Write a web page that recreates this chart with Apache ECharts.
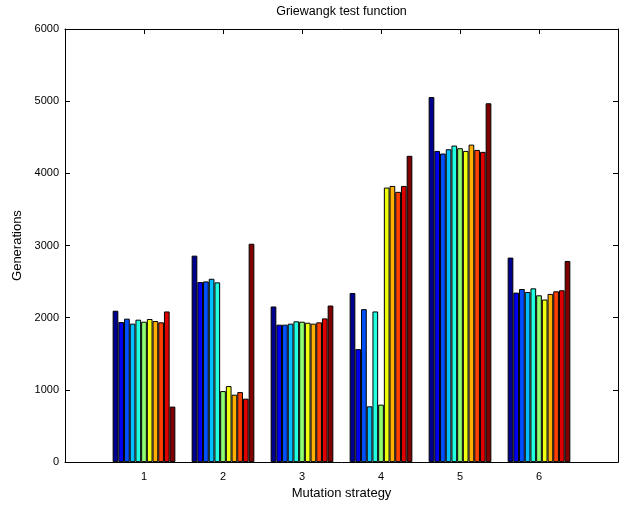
<!DOCTYPE html>
<html>
<head>
<meta charset="utf-8">
<script src="https://cdn.jsdelivr.net/npm/echarts@6/dist/echarts.min.js"></script>
<style>html,body{margin:0;padding:0;background:#fff}#c{width:621px;height:505px}</style>
</head>
<body>
<div id="c"></div>
<script>
var strategies = ['1', '2', '3', '4', '5', '6'];
var yTicks = [0, 1000, 2000, 3000, 4000, 5000, 6000];
// one array per bar within each group (11 bars per strategy)
var bar1  = [2097, 2860, 2156, 2343, 5057, 2833];
var bar2  = [1940, 2494, 1904, 1565, 4311, 2348];
var bar3  = [1987, 2503, 1904, 2119, 4275, 2398];
var bar4  = [1918, 2540, 1918, 773, 4334, 2357];
var bar5  = [1973, 2490, 1950, 2087, 4385, 2407];
var bar6  = [1945, 984, 1945, 796, 4348, 2311];
var bar7  = [1982, 1053, 1931, 3803, 4311, 2252];
var bar8  = [1954, 934, 1918, 3826, 4398, 2330];
var bar9  = [1936, 970, 1936, 3744, 4325, 2366];
var bar10 = [2087, 879, 1991, 3826, 4298, 2380];
var bar11 = [769, 3025, 2169, 4243, 4971, 2787];
var bars = [bar1, bar2, bar3, bar4, bar5, bar6, bar7, bar8, bar9, bar10, bar11];
var colors = ['#00008F', '#0000EF', '#0050FF', '#00BFFF', '#20FFDF', '#8FFF70',
              '#EFFF10', '#FFAF00', '#FF4000', '#DF0000', '#800000'];

var cats = ['0'].concat(strategies).concat(['7']);
var font = 'Liberation Sans, Arial, Helvetica, sans-serif';

var series = bars.map(function (vals, i) {
  return {
    type: 'bar',
    xAxisIndex: 0,
    yAxisIndex: 0,
    data: ['-'].concat(vals).concat(['-']),
    barWidth: 5.7,
    barGap: '0%',
    itemStyle: { color: colors[i], borderColor: '#000', borderWidth: 1 },
    emphasis: { disabled: true },
    animation: false
  };
});

var chart = echarts.init(document.getElementById('c'), null, { renderer: 'canvas' });
chart.setOption({
  animation: false,
  backgroundColor: '#fff',
  grid: { left: 65, right: 1, top: 29, bottom: 39, containLabel: false },
  xAxis: [{
    type: 'category',
    data: cats,
    boundaryGap: false,
    position: 'bottom',
    axisLine: { onZero: false, lineStyle: { color: '#000', width: 1 } },
    axisTick: { inside: true, length: 5, lineStyle: { color: '#000' }, interval: 0 },
    axisLabel: {
      color: '#000', fontSize: 11, fontFamily: font, margin: 9, interval: 0,
      formatter: function (v) { return (v === '0' || v === '7') ? '' : v; }
    },
    splitLine: { show: false },
    name: 'Mutation strategy',
    nameLocation: 'middle',
    nameGap: 21,
    nameTextStyle: { color: '#000', fontSize: 13, fontFamily: font }
  }, {
    type: 'category',
    data: cats,
    boundaryGap: false,
    position: 'top',
    axisLine: { onZero: false, lineStyle: { color: '#000', width: 1 } },
    axisTick: { inside: true, length: 5, lineStyle: { color: '#000' }, interval: 0 },
    axisLabel: { show: false },
    splitLine: { show: false },
    name: 'Griewangk test function',
    nameLocation: 'middle',
    nameGap: 11,
    nameTextStyle: { color: '#000', fontSize: 12.5, fontFamily: font }
  }],
  yAxis: [{
    type: 'value',
    min: yTicks[0],
    max: yTicks[yTicks.length - 1],
    interval: 1000,
    position: 'left',
    axisLine: { show: true, onZero: false, lineStyle: { color: '#000', width: 1 } },
    axisTick: { show: true, inside: true, length: 5, lineStyle: { color: '#000' } },
    axisLabel: { color: '#000', fontSize: 11, fontFamily: font, margin: 6,
      formatter: function (v) { return String(v); } },
    splitLine: { show: false },
    name: 'Generations',
    nameLocation: 'middle',
    nameGap: 33,
    nameTextStyle: { color: '#000', fontSize: 13, fontFamily: font }
  }, {
    type: 'value',
    min: yTicks[0],
    max: yTicks[yTicks.length - 1],
    interval: 1000,
    position: 'right',
    axisLine: { show: true, onZero: false, lineStyle: { color: '#000', width: 1 } },
    axisTick: { show: true, inside: true, length: 5, lineStyle: { color: '#000' } },
    axisLabel: { show: false },
    splitLine: { show: false }
  }],
  series: series
});
</script>
</body>
</html>
